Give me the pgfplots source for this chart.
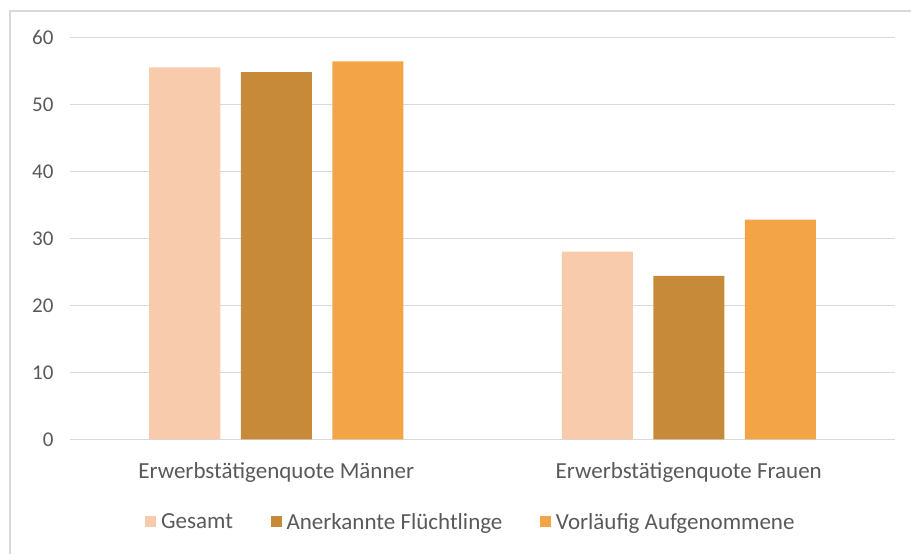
\documentclass[border=0pt]{standalone}
\usepackage{pgfplots}
\pgfplotsset{compat=1.18}
\usepackage{fontspec}
\setmainfont{Carlito}
\definecolor{cGes}{HTML}{F8CBAD}
\definecolor{cAne}{HTML}{C78A38}
\definecolor{cVor}{HTML}{F2A447}
\definecolor{txt}{HTML}{595959}
\definecolor{grd}{HTML}{D9D9D9}
\begin{document}
\begin{tikzpicture}
\useasboundingbox (-70pt,-114.7pt) rectangle (841pt,439.3pt);
\draw[grd, line width=1.5pt] (-60pt,-114.7pt) -- (-60pt,428.3pt) -- (841pt,428.3pt);
\begin{axis}[
  at={(0pt,0pt)}, anchor=south west,
  scale only axis, width=825pt, height=402pt,
  ybar=20.5pt, bar width=71pt,
  xmin=-0.5, xmax=1.5, ymin=0, ymax=60,
  xtick={0,1}, xticklabels={Erwerbstätigenquote Männer, Erwerbstätigenquote Frauen},
  ytick={0,10,...,60},
  ymajorgrids, grid style={grd, line width=1.3pt},
  axis line style={draw=none},
  major tick length=0pt,
  tick label style={text=txt},
  /pgf/number format/assume math mode=true,
  yticklabel style={font=\fontsize{21}{25}\selectfont, xshift=-13pt},
  xticklabel style={font=\fontsize{23}{27}\selectfont, anchor=base, yshift=-39pt},
  legend columns=3,
  legend style={at={(0.0909,-0.2057)}, anchor=west, draw=none, fill=none,
    inner sep=0pt, font=\fontsize{23}{27}\selectfont, text=txt,
    nodes={inner xsep=5pt, inner ysep=0pt},
    /tikz/every even column/.append style={column sep=32.5pt}},
  legend image code/.code={\fill[#1] (0pt,-5.5pt) rectangle (11pt,5.5pt);},
]
\addplot[fill=cGes, draw=none] coordinates {(0,55.5) (1,28.0)};
\addplot[fill=cAne, draw=none] coordinates {(0,54.8) (1,24.4)};
\addplot[fill=cVor, draw=none] coordinates {(0,56.4) (1,32.8)};
\legend{Gesamt, Anerkannte Flüchtlinge, Vorläufig Aufgenommene}
\end{axis}
\end{tikzpicture}
\end{document}
